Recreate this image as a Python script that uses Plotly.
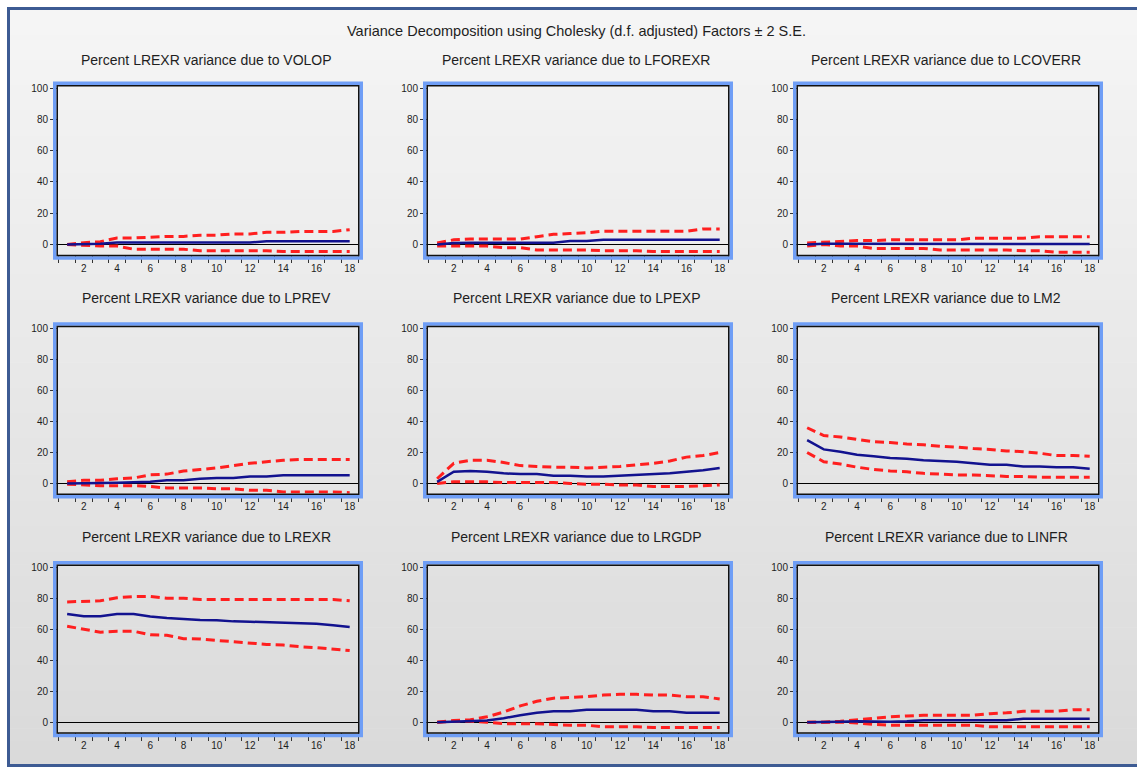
import plotly.graph_objects as go

W, H = 1137, 767

periods = list(range(1, 19))
shock_names = ["VOLOP", "LFOREXR", "LCOVERR", "LPREV", "LPEXP", "LM2", "LREXR", "LRGDP", "LINFR"]
main_title = "Variance Decomposition using Cholesky (d.f. adjusted) Factors \u00b1 2 S.E."
panel_title_fmt = "Percent LREXR variance due to {}"

x_tick_vals = [2, 4, 6, 8, 10, 12, 14, 16, 18]
x_minor_ticks = [i + 0.5 for i in range(0, 19)]
y_tick_vals = [0, 20, 40, 60, 80, 100]

volop_mean = [0, 0.3, 0.5, 1.3, 1.3, 1.3, 1.3, 1.3, 1.3, 1.3, 1.3, 1.3, 2.1, 2.1, 2.1, 2.1, 2.1, 2.1]
volop_upper = [0, 1.2, 1.8, 4.2, 4.2, 4.8, 5.2, 5.2, 6.0, 6.0, 6.8, 6.8, 7.8, 7.8, 8.4, 8.4, 8.4, 9.5]
volop_lower = [0, -0.5, -1.0, -1.0, -3.0, -3.0, -3.0, -3.0, -4.0, -4.0, -4.0, -4.0, -4.0, -4.5, -4.5, -4.5, -4.5, -4.5]

lforexr_mean = [0, 1.0, 1.2, 1.2, 1.2, 1.2, 1.2, 1.2, 2.3, 2.3, 3.0, 3.0, 3.0, 3.0, 3.0, 3.0, 3.0, 3.0]
lforexr_upper = [1.0, 3.0, 3.5, 3.5, 3.5, 3.5, 5.0, 6.5, 7.0, 7.5, 8.5, 8.5, 8.5, 8.5, 8.5, 8.5, 10.0, 10.0]
lforexr_lower = [-1.0, -1.0, -1.0, -1.0, -2.0, -2.0, -3.5, -3.5, -3.5, -3.5, -4.0, -4.0, -4.0, -4.5, -4.5, -4.5, -4.5, -4.5]

lcoverr_mean = [0, 0.5, 0.5, 0.5, 0.5, 0.5, 0.5, 0.5, 0.5, 0.5, 0.5, 0.5, 0.5, 0.4, 0.4, 0.4, 0.3, 0.3]
lcoverr_upper = [1.0, 1.5, 2.0, 2.5, 2.5, 3.0, 3.0, 3.0, 3.0, 3.0, 4.0, 4.0, 4.0, 4.0, 5.0, 5.0, 5.0, 5.0]
lcoverr_lower = [-1.0, 0.0, -1.0, -1.0, -2.5, -2.5, -2.5, -2.5, -3.5, -3.5, -3.5, -3.5, -3.5, -4.0, -4.0, -5.0, -5.0, -5.0]

lprev_mean = [0, 0.3, 0.3, 0.4, 0.5, 1.0, 2.0, 2.0, 3.0, 3.5, 3.5, 4.5, 4.5, 5.2, 5.2, 5.2, 5.2, 5.2]
lprev_upper = [1.0, 2.0, 2.0, 3.0, 3.5, 5.5, 6.0, 8.0, 9.0, 10.0, 11.5, 13.0, 14.0, 15.0, 15.5, 15.5, 15.5, 15.5]
lprev_lower = [-0.5, -1.0, -1.5, -1.5, -1.5, -2.0, -3.0, -3.0, -3.0, -3.5, -3.5, -4.5, -4.5, -5.5, -5.5, -5.5, -5.5, -6.0]

lpexp_mean = [1.0, 7.5, 8.0, 7.5, 6.5, 6.0, 6.0, 5.0, 5.0, 4.5, 4.5, 5.0, 5.5, 6.0, 6.5, 7.5, 8.5, 10.0]
lpexp_upper = [3.0, 13.0, 15.0, 15.0, 13.5, 11.5, 11.0, 10.5, 10.5, 10.0, 10.5, 11.0, 12.0, 13.0, 14.5, 17.0, 18.0, 20.0]
lpexp_lower = [0.0, 1.0, 1.0, 1.0, 0.5, 0.5, 0.5, 0.5, 0.0, -0.5, -0.5, -1.0, -1.0, -2.0, -2.0, -2.0, -1.5, -1.0]

lm2_mean = [28.0, 22.0, 20.5, 18.5, 17.5, 16.5, 16.0, 15.0, 14.5, 14.0, 13.0, 12.0, 12.0, 11.0, 11.0, 10.5, 10.5, 9.5]
lm2_upper = [36.0, 31.0, 30.0, 28.5, 27.0, 26.5, 25.5, 25.0, 24.0, 23.5, 22.5, 22.0, 21.0, 20.5, 19.5, 18.0, 18.0, 17.5]
lm2_lower = [20.0, 14.0, 12.5, 10.5, 9.0, 8.0, 7.5, 6.5, 6.0, 5.5, 5.5, 5.0, 4.5, 4.5, 4.0, 4.0, 4.0, 4.0]

lrexr_mean = [70.0, 68.5, 68.5, 70.0, 70.0, 68.3, 67.4, 66.7, 66.1, 66.0, 65.2, 65.0, 64.6, 64.5, 63.8, 63.6, 62.7, 61.6]
lrexr_upper = [77.8, 78.0, 78.5, 80.5, 81.2, 81.3, 80.2, 80.2, 79.4, 79.4, 79.4, 79.4, 79.4, 79.4, 79.4, 79.4, 79.4, 78.5]
lrexr_lower = [62.0, 60.3, 58.2, 58.8, 58.8, 56.5, 56.2, 54.0, 53.8, 52.9, 52.0, 51.4, 50.3, 49.9, 48.8, 48.2, 47.4, 46.3]

lrgdp_mean = [0, 0.3, 0.5, 1.0, 2.5, 4.5, 6.0, 7.0, 7.0, 8.0, 8.0, 8.0, 8.0, 7.0, 7.0, 6.0, 6.0, 6.0]
lrgdp_upper = [0, 1.0, 1.5, 3.5, 6.5, 10.5, 13.5, 15.5, 16.0, 16.5, 17.5, 18.0, 18.0, 17.5, 17.5, 16.5, 16.5, 15.0]
lrgdp_lower = [0, 0.5, 0.5, 0.0, -1.0, -1.0, -1.0, -1.5, -2.0, -2.0, -3.0, -3.0, -3.0, -3.5, -3.5, -3.5, -3.5, -3.5]

linfr_mean = [0, 0, 0.3, 0.5, 0.3, 0.3, 0.5, 1.2, 1.2, 1.2, 1.2, 1.2, 1.2, 2.2, 2.2, 2.2, 2.2, 2.2]
linfr_upper = [0, 0, 0.5, 1.5, 2.5, 3.5, 4.0, 4.5, 4.5, 4.5, 4.5, 5.5, 6.0, 7.0, 7.0, 7.0, 8.0, 8.0]
linfr_lower = [0, 0, 0, -0.5, -1.5, -2.0, -2.0, -2.0, -2.0, -2.0, -2.0, -3.0, -3.0, -3.0, -3.0, -3.0, -3.0, -3.0]

panels = [
    (volop_mean, volop_upper, volop_lower),
    (lforexr_mean, lforexr_upper, lforexr_lower),
    (lcoverr_mean, lcoverr_upper, lcoverr_lower),
    (lprev_mean, lprev_upper, lprev_lower),
    (lpexp_mean, lpexp_upper, lpexp_lower),
    (lm2_mean, lm2_upper, lm2_lower),
    (lrexr_mean, lrexr_upper, lrexr_lower),
    (lrgdp_mean, lrgdp_upper, lrgdp_lower),
    (linfr_mean, linfr_upper, linfr_lower),
]

# layout geometry (pixels)
col_px = [(58, 358), (428, 728), (798, 1098)]
row_px = [(83, 252), (325, 492), (565, 732)]
title_y_px = [56, 296, 536]

FONT = "Liberation Sans, Arial, sans-serif"
RED = "#ff1f1f"
NAVY = "#12128f"
FRAME = "#6f9ef6"
TXT = "#1e1e1e"


def px_x(v):
    return v / W


def px_y(v):
    return 1 - v / H


fig = go.Figure()
layout = dict(
    width=W, height=H,
    margin=dict(l=0, r=0, t=0, b=0),
    paper_bgcolor="white",
    plot_bgcolor="white",
    showlegend=False,
    font=dict(family=FONT, color=TXT),
)
shapes = []
annotations = []

# background gradient bands inside outer border
n_bands = 60
top_c, bot_c = (245, 245, 245), (218, 218, 218)
y_start, y_end = 5, 766
for i in range(n_bands):
    t = i / (n_bands - 1)
    c = tuple(int(round(top_c[k] + (bot_c[k] - top_c[k]) * t)) for k in range(3))
    ya = y_start + (y_end - y_start) * i / n_bands
    yb = y_start + (y_end - y_start) * (i + 1) / n_bands + 0.6
    shapes.append(dict(type="rect", xref="paper", yref="paper", layer="below",
                       x0=px_x(8), x1=px_x(W + 5), y0=px_y(yb), y1=px_y(ya),
                       line=dict(width=0), fillcolor="rgb(%d,%d,%d)" % c))

# outer border
shapes.append(dict(type="rect", xref="paper", yref="paper", layer="above",
                   x0=px_x(8.5), x1=px_x(W + 10), y0=px_y(765.5), y1=px_y(4.5),
                   line=dict(color="#3d5b93", width=3), fillcolor="rgba(0,0,0,0)"))

annotations.append(dict(text=main_title, xref="paper", yref="paper",
                        x=px_x(576), y=px_y(27), xanchor="center", yanchor="middle",
                        showarrow=False, font=dict(size=14.5, family=FONT, color=TXT)))

for idx, (name, (mean, upper, lower)) in enumerate(zip(shock_names, panels)):
    r, c = divmod(idx, 3)
    L, R = col_px[c]
    T, B = row_px[r]
    n = idx + 1
    xa = "xaxis" if n == 1 else "xaxis%d" % n
    ya = "yaxis" if n == 1 else "yaxis%d" % n
    xr = "x" if n == 1 else "x%d" % n
    yr = "y" if n == 1 else "y%d" % n

    layout[xa] = dict(
        domain=[px_x(L), px_x(R)], anchor=yr, range=[0.45, 18.5],
        tickvals=x_tick_vals, ticktext=[str(v) for v in x_tick_vals],
        ticks="outside", ticklen=4, tickcolor="rgba(0,0,0,0)",
        minor=dict(tickvals=x_minor_ticks, ticks="outside", ticklen=7.5,
                   tickcolor="#333", tickwidth=1, showgrid=False),
        showgrid=False, zeroline=False, showline=False,
        tickfont=dict(size=10, family=FONT, color=TXT), fixedrange=True,
    )
    layout[ya] = dict(
        domain=[px_y(B), px_y(T)], anchor=xr, range=[-6.5, 101],
        tickvals=y_tick_vals, ticks="outside", ticklen=7, tickcolor="#333", tickwidth=1,
        showgrid=False, zeroline=True, zerolinecolor="black", zerolinewidth=1,
        showline=False, tickfont=dict(size=10, family=FONT, color=TXT), fixedrange=True,
    )

    fig.add_trace(go.Scatter(x=periods, y=upper, mode="lines", xaxis=xr, yaxis=yr,
                             line=dict(color=RED, width=3, dash="9px,5px")))
    fig.add_trace(go.Scatter(x=periods, y=lower, mode="lines", xaxis=xr, yaxis=yr,
                             line=dict(color=RED, width=3, dash="9px,5px")))
    fig.add_trace(go.Scatter(x=periods, y=mean, mode="lines", xaxis=xr, yaxis=yr,
                             line=dict(color=NAVY, width=2.5)))

    # light-blue frame and black inner border
    shapes.append(dict(type="rect", xref="paper", yref="paper", layer="above",
                       x0=px_x(L - 3.25), x1=px_x(R + 3.25), y0=px_y(B + 3.25), y1=px_y(T - 3.25),
                       line=dict(color=FRAME, width=3.5), fillcolor="rgba(0,0,0,0)"))
    shapes.append(dict(type="rect", xref="paper", yref="paper", layer="above",
                       x0=px_x(L - 0.75), x1=px_x(R + 0.75), y0=px_y(B + 0.75), y1=px_y(T - 0.75),
                       line=dict(color="#111", width=1.5), fillcolor="rgba(0,0,0,0)"))

    annotations.append(dict(text=panel_title_fmt.format(name), xref="paper", yref="paper",
                            x=px_x((L + R) / 2 - 2), y=px_y(title_y_px[r]),
                            xanchor="center", yanchor="middle", showarrow=False,
                            font=dict(size=14, family=FONT, color=TXT)))

layout["shapes"] = shapes
layout["annotations"] = annotations
fig.update_layout(**layout)
fig.write_html("out.html")
